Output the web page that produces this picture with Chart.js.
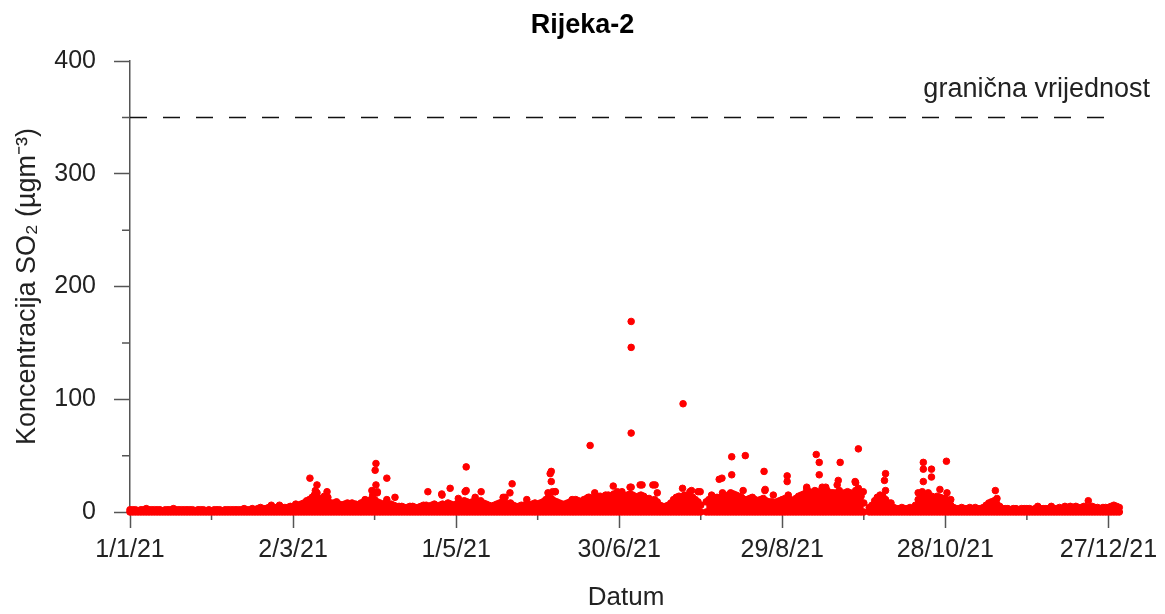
<!DOCTYPE html>
<html>
<head>
<meta charset="utf-8">
<script src="https://cdn.jsdelivr.net/npm/chart.js@4.4.1/dist/chart.umd.min.js"></script>
<style>
  html, body { margin: 0; padding: 0; background: #fff; }
  #okvir { width: 1165px; height: 614px; }
</style>
</head>
<body>
<div id="okvir"><canvas id="graf" width="1165" height="614"></canvas></div>
<script>
// oznake osi
var oznakeX = ['1/1/21', '2/3/21', '1/5/21', '30/6/21', '29/8/21', '28/10/21', '27/12/21'];
var pozicijeX = [0, 60, 120, 180, 240, 300, 360];   // dan u godini
var sporedneX = [30, 90, 150, 210, 270, 330];
var oznakeY = [0, 100, 200, 300, 400];
var sporedneY = [50, 150, 250, 350];
var granicnaVrijednost = 350;

// dnevni maksimum gustog dijela (µg/m3), dan 0 = 1.1.2021.
var dnevniMaks = [
  2,2,2,1,2,2,3,2,2,2,  2,2,1,2,2,2,3,2,2,2,  2,2,2,2,1,2,2,2,1,2,
  1,2,2,2,1,2,2,2,2,2,  2,2,3,2,2,3,2,3,4,3,  3,4,6,4,4,6,4,4,4,5,
  5,7,6,7,8,10,11,13,14,13,  12,12,10,9,8,8,7,7,6,7,  8,7,6,7,6,8,9,8,10,12,
  11,9,8,6,8,6,7,6,5,5,  5,4,4,5,5,4,4,5,6,6,  5,6,7,5,6,7,6,8,7,6,
  7,8,8,10,9,8,9,10,9,10,  8,7,6,5,6,7,8,9,8,7,  8,6,5,5,6,6,7,6,7,8,
  7,8,9,11,13,12,10,9,8,7,  7,8,9,10,11,10,9,11,12,13,  12,11,13,14,12,13,15,14,16,15,
  13,12,14,15,16,15,13,14,15,14,  12,12,10,11,9,6,5,5,6,8,  11,13,14,13,15,14,13,13,11,9,
  6,null,9,11,12,13,13,12,14,14,  15,17,16,15,14,13,11,11,12,11,  11,10,11,12,10,9,9,8,9,10,
  11,12,10,11,10,12,14,15,16,17,  18,17,19,18,16,17,18,16,17,16,  17,19,16,15,18,17,16,19,17,14,
  8,null,4,6,10,13,15,14,11,8,  8,4,3,3,4,3,3,4,3,6,  11,13,15,14,13,14,12,14,13,12,
  12,10,6,4,3,3,4,3,3,4,  3,4,3,3,4,6,8,9,10,7,  5,3,3,3,2,3,3,2,3,3,
  3,3,2,3,5,3,3,3,3,5,  3,3,4,3,5,4,5,4,5,4,  4,5,4,4,5,4,4,3,4,4,
  4,5,6,5,4
];

// dnevni minimum
var dnevniMin = [
  0,0,0,0,0,0,0,0,0,0,  0,0,0,0,0,0,0,0,0,0,  0,0,0,0,0,0,0,0,0,0,
  0,0,0,0,0,0,0,0,0,0,  0,0,0,0,0,0,0,0,0,0,  0,0,0,0,0,0,0,0,0,0,
  0,0,0,0,0,0,0,0,0,0,  0,0,0,0,0,0,0,0,0,0,  0,0,0,0,0,0,0,0,0,0,
  0,0,0,0,0,0,0,0,0,0,  0,0,0,0,0,0,0,0,0,0,  0,0,0,0,0,0,0,0,0,0,
  0,0,0,0,0,0,0,0,0,0,  0,0,0,0,0,0,0,0,0,0,  0,0,0,0,0,0,0,0,0,0,
  0,0,0,0,0,0,0,0,0,0,  0,0,0,0,0,0,0,0,0,0,  0,0,0,0,0,0,0,0,0,0,
  0,0,0,0,0,0,0,0,0,0,  0,0,0,0,0,0,0,0,0,0,  0,0,0,0,0,0,0,0,0,0,
  0,null,0,0,0,0,0,0,0,0,  0,0,0,0,0,0,0,0,0,0,  0,0,0,0,0,0,0,0,0,0,
  0,0,0,0,0,0,0,0,0,0,  0,0,0,0,0,0,0,0,0,0,  0,0,0,0,0,0,0,0,0,0,
  0,null,0,0,0,0,0,0,0,0,  0,0,0,0,0,0,0,0,0,0,  0,0,0,0,0,0,0,0,0,0,
  0,0,0,0,0,0,0,0,0,0,  0,0,0,0,0,0,0,0,0,0,  0,0,0,0,0,0,0,0,0,0,
  0,0,0,0,0,0,0,0,0,0,  0,0,0,0,0,0,0,0,0,0,  0,0,0,0,0,0,0,0,0,0,
  0,0,0,0,0
];

// pojedinacna mjerenja iznad gustog dijela
var izdvojeniDani = [
  66.2, 68.8, 68.2, 67.8, 72.5, 71.5, 68.8, 67, 72.8, 76, 81.7, 86.5, 89, 89.3,
  90.5, 90.2, 90.5, 91, 91, 94.5, 94.5, 97.5,
  109.6, 114.7, 114.8, 117.8, 120.8, 123.7, 123.7, 123.3, 127, 129.2, 137.3, 138, 139.8, 140.6, 146,
  155, 154.6, 155, 155.5, 156.5, 153.8, 156.4, 162.7, 168.6, 169.3, 171, 175, 177.8, 179.3, 181,
  184.4, 184.4, 184.4, 184.4, 184, 187.7, 188.4, 192.4, 193.2, 194, 203.5, 203.3, 206.6, 206, 209, 209.8,
  214, 217.8, 216.8, 218, 219, 221.4, 221.4, 221.4, 226.4, 225.6, 229, 233.3, 233.6, 233.7, 236.7,
  241.8, 241.8, 242.2, 244.8, 249, 249, 251, 252.5, 253.6, 253.6, 254.7, 256, 256.5, 258.8,
  261.3, 260.6, 260.2, 263, 266.8, 268, 268, 267, 269.8,
  275, 278, 278, 277.6, 290, 291.9, 291.9, 291.9, 291.5, 293.7, 294.9, 294.9, 295.5, 298, 298,
  300.4, 300.6, 302, 318.4, 319, 352.6
];
var izdvojeneVrijednosti = [
  30, 24, 19, 15, 18, 14, 17, 12, 13, 9, 8, 11, 19, 15,
  43, 37, 24, 18, 17, 30, 11, 13,
  18, 16, 15, 21, 12, 40, 19, 18, 13, 18, 13, 13, 17, 25, 11,
  36, 34, 27, 18, 18, 17, 18, 11, 13, 59, 17, 15, 23, 18, 18,
  169, 146, 70, 22, 22, 24, 24, 24, 24, 17, 96, 21, 19, 18, 18, 18,
  15, 30, 29, 17, 11, 49, 33, 15, 50, 19, 13, 36, 19, 20, 15,
  32, 27, 15, 9, 20, 22, 17, 51, 44, 33, 22, 22, 19, 17,
  44, 28, 24, 17, 27, 56, 21, 26, 18,
  13, 34, 19, 28, 17, 44, 38, 27, 18, 17, 38, 31, 13, 20, 13,
  45, 17, 11, 19, 12, 10
];

var crvena = '#ff0000';
var font = '"Liberation Sans", Arial, sans-serif';
var bojaOsi = '#555555';

var sporedneCrtice = {
  id: 'sporedneCrtice',
  beforeDatasetsDraw: function(chart) {
    var ctx = chart.ctx;
    var x = chart.scales.x;
    var y = chart.scales.y;
    ctx.save();
    ctx.strokeStyle = bojaOsi;
    ctx.lineWidth = 1.5;
    ctx.beginPath();
    sporedneX.forEach(function(d) {
      var px = x.getPixelForValue(d);
      ctx.moveTo(px, y.bottom);
      ctx.lineTo(px, y.bottom + 8);
    });
    sporedneY.forEach(function(v) {
      var py = y.getPixelForValue(v);
      ctx.moveTo(x.left, py);
      ctx.lineTo(x.left - 8, py);
    });
    ctx.stroke();
    ctx.fillStyle = '#222';
    ctx.font = '27px ' + font;
    ctx.textAlign = 'right';
    ctx.textBaseline = 'middle';
    ctx.fillText('granična vrijednost', x.right + 28, y.getPixelForValue(375));
    ctx.restore();
  }
};

var izdvojeni = izdvojeniDani.map(function(d, i) { return {x: d, y: izdvojeneVrijednosti[i]}; });
var maksimumi = dnevniMaks.map(function(v, i) { return {x: i, y: v}; });
var minimumi = dnevniMin.map(function(v, i) { return {x: i, y: v}; });

new Chart(document.getElementById('graf'), {
  type: 'scatter',
  data: {
    datasets: [
      {
        data: izdvojeni, yAxisID: 'y',
        pointRadius: 3.3, pointBorderWidth: 1,
        backgroundColor: crvena, borderColor: crvena,
        clip: false
      },
      {
        type: 'line', yAxisID: 'y',
        data: maksimumi,
        borderColor: crvena, backgroundColor: crvena,
        borderWidth: 2, fill: 'origin', spanGaps: false,
        pointRadius: 3.3, pointBorderWidth: 1,
        pointBackgroundColor: crvena, pointBorderColor: crvena,
        clip: false
      },
      {
        data: minimumi, yAxisID: 'y',
        pointRadius: 3.3, pointBorderWidth: 1,
        backgroundColor: crvena, borderColor: crvena,
        clip: false
      },
      {
        type: 'line', yAxisID: 'y',
        data: [{x: 0, y: granicnaVrijednost}, {x: 364, y: granicnaVrijednost}],
        borderColor: '#111', borderWidth: 1.5, borderDash: [17, 16],
        pointRadius: 0, fill: false
      }
    ]
  },
  options: {
    responsive: false,
    animation: false,
    devicePixelRatio: 1,
    layout: { padding: 0 },
    plugins: {
      legend: { display: false },
      tooltip: { enabled: false },
      title: {
        display: true,
        text: 'Rijeka-2',
        color: '#000',
        font: { family: font, size: 27, weight: 'bold' },
        padding: { top: 9, bottom: 19.6 }
      }
    },
    scales: {
      x: {
        type: 'linear',
        min: 0, max: 365,
        afterFit: function(s) { s.height = 102; },
        afterBuildTicks: function(s) {
          s.ticks = pozicijeX.map(function(v) { return {value: v}; });
        },
        grid: { drawOnChartArea: false, drawTicks: true, tickLength: 16, tickColor: bojaOsi, tickWidth: 1.5 },
        border: { display: true, color: bojaOsi, width: 1.5 },
        ticks: {
          autoSkip: false, maxRotation: 0, padding: 7,
          color: '#222', font: { family: font, size: 25 },
          callback: function(v, i) { return oznakeX[i]; }
        },
        title: {
          display: true, text: 'Datum', color: '#222',
          font: { family: font, size: 26 },
          padding: { top: 0, bottom: 1 }
        }
      },
      y: {
        min: 0, max: 400,
        afterFit: function(s) { s.width = 130; },
        afterBuildTicks: function(s) {
          s.ticks = oznakeY.map(function(v) { return {value: v}; });
        },
        grid: { drawOnChartArea: false, drawTicks: true, tickLength: 16, tickColor: bojaOsi, tickWidth: 1.5 },
        border: { display: true, color: bojaOsi, width: 1.5 },
        ticks: {
          padding: 18, color: '#222', font: { family: font, size: 25 }
        },
        title: {
          display: true, text: 'Koncentracija SO₂ (µgm⁻³)', color: '#222',
          font: { family: font, size: 27 },
          padding: { top: 11, bottom: 0 }
        }
      },
      y2: {
        position: 'right',
        min: 0, max: 400,
        afterFit: function(s) { s.width = 43; },
        grid: { display: false, drawTicks: false },
        border: { display: false },
        ticks: { display: false }
      }
    }
  },
  plugins: [sporedneCrtice]
});
</script>
</body>
</html>
